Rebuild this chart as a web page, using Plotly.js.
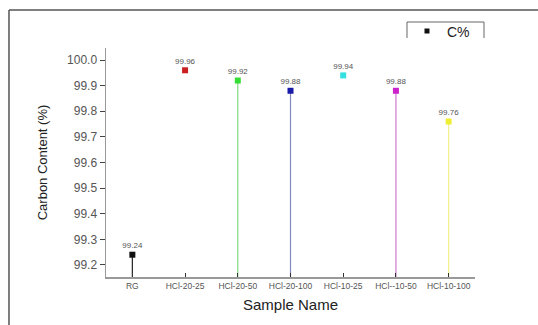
<!DOCTYPE html>
<html>
<head>
<meta charset="utf-8">
<script src="https://cdn.plot.ly/plotly-3.0.1.min.js"></script>
<style>html,body{margin:0;padding:0;background:#fff;}#chart{width:538px;height:325px;}</style>
</head>
<body>
<div id="chart"></div>
<script>
var categories = ["RG", "HCl-20-25", "HCl-20-50", "HCl-20-100", "HCl-10-25", "HCl--10-50", "HCl-10-100"];
var carbonValues = [99.24, 99.96, 99.92, 99.88, 99.94, 99.88, 99.76];
var valueLabels = ["99.24", "99.96", "99.92", "99.88", "99.94", "99.88", "99.76"];
var markerColors = ["#111111", "#cc1f1f", "#33dd33", "#1a1aa8", "#33e0e0", "#cc22cc", "#eeee33"];
var stemColors = ["#222222", null, "#7fdc7f", "#8088c0", null, "#cc77cc", "#f0f08a"];
var yMin = 99.153, yMax = 100.047;

var traces = [];
for (var i = 0; i < categories.length; i++) {
  var t = {
    type: "scatter",
    mode: "markers+text",
    x: [categories[i]],
    y: [carbonValues[i]],
    text: [valueLabels[i]],
    textposition: "top center",
    textfont: {family: "Liberation Sans, Arial, sans-serif", size: 8, color: "#555"},
    marker: {symbol: "square", size: 6, color: markerColors[i]},
    showlegend: false,
    hoverinfo: "skip",
    cliponaxis: false
  };
  if (stemColors[i]) {
    t.error_y = {type: "data", symmetric: false, array: [0], arrayminus: [carbonValues[i] - yMin], color: stemColors[i], thickness: 1.2, width: 0};
  }
  traces.push(t);
}
traces.push({
  type: "scatter", mode: "markers", x: [null], y: [null], name: "C%",
  marker: {symbol: "square", size: 5, color: "#111"}, showlegend: true
});

var layout = {
  width: 538, height: 325,
  margin: {l: 106, r: 63, t: 48, b: 48},
  paper_bgcolor: "#fff", plot_bgcolor: "#fff",
  font: {family: "Liberation Sans, Arial, sans-serif", color: "#333"},
  xaxis: {
    type: "category", categoryorder: "array", categoryarray: categories,
    range: [-0.5, 6.5], showgrid: false, zeroline: false,
    showline: true, linecolor: "#999", linewidth: 1.5,
    ticks: "inside", ticklen: 4, tickcolor: "#333", tickwidth: 1,
    tickfont: {size: 8.5, color: "#555"},
    title: {text: "Sample Name", font: {size: 15, color: "#222"}, standoff: 10}
  },
  yaxis: {
    range: [yMin, yMax], showgrid: false, zeroline: false,
    showline: true, linecolor: "#999", linewidth: 1.5,
    ticks: "outside", ticklen: 5, tickcolor: "#444", tickwidth: 1,
    tickvals: [99.2, 99.3, 99.4, 99.5, 99.6, 99.7, 99.8, 99.9, 100.0],
    ticktext: ["99.2", "99.3", "99.4", "99.5", "99.6", "99.7", "99.8", "99.9", "100.0"],
    tickfont: {size: 12, color: "#555"},
    title: {text: "Carbon Content (%)", font: {size: 13, color: "#222"}, standoff: 16}
  },
  showlegend: true,
  legend: {x: 0.8157, y: 1.142, xanchor: "left", yanchor: "top", borderwidth: 0, bgcolor: "rgba(0,0,0,0)", font: {size: 14, color: "#222"}, itemwidth: 30},
  shapes: [
    {type: "line", xref: "paper", yref: "paper", x0: -0.2629, x1: 1.1707, y0: 1.166, y1: 1.166, line: {color: "#555", width: 1.5}},
    {type: "line", xref: "paper", yref: "paper", x0: -0.2629, x1: -0.2629, y0: -0.21, y1: 1.166, line: {color: "#555", width: 1.5}},
    {type: "line", xref: "paper", yref: "paper", x0: 0.8157, x1: 1.0244, y0: 1.1135, y1: 1.1135, line: {color: "#666", width: 1}},
    {type: "line", xref: "paper", yref: "paper", x0: 0.8157, x1: 0.8157, y0: 1.1135, y1: 1.0437, line: {color: "#666", width: 1}},
    {type: "line", xref: "paper", yref: "paper", x0: 1.0244, x1: 1.0244, y0: 1.1135, y1: 1.0437, line: {color: "#666", width: 1}}
  ]
};
Plotly.newPlot("chart", traces, layout, {displayModeBar: false, staticPlot: true});
</script>
</body>
</html>
